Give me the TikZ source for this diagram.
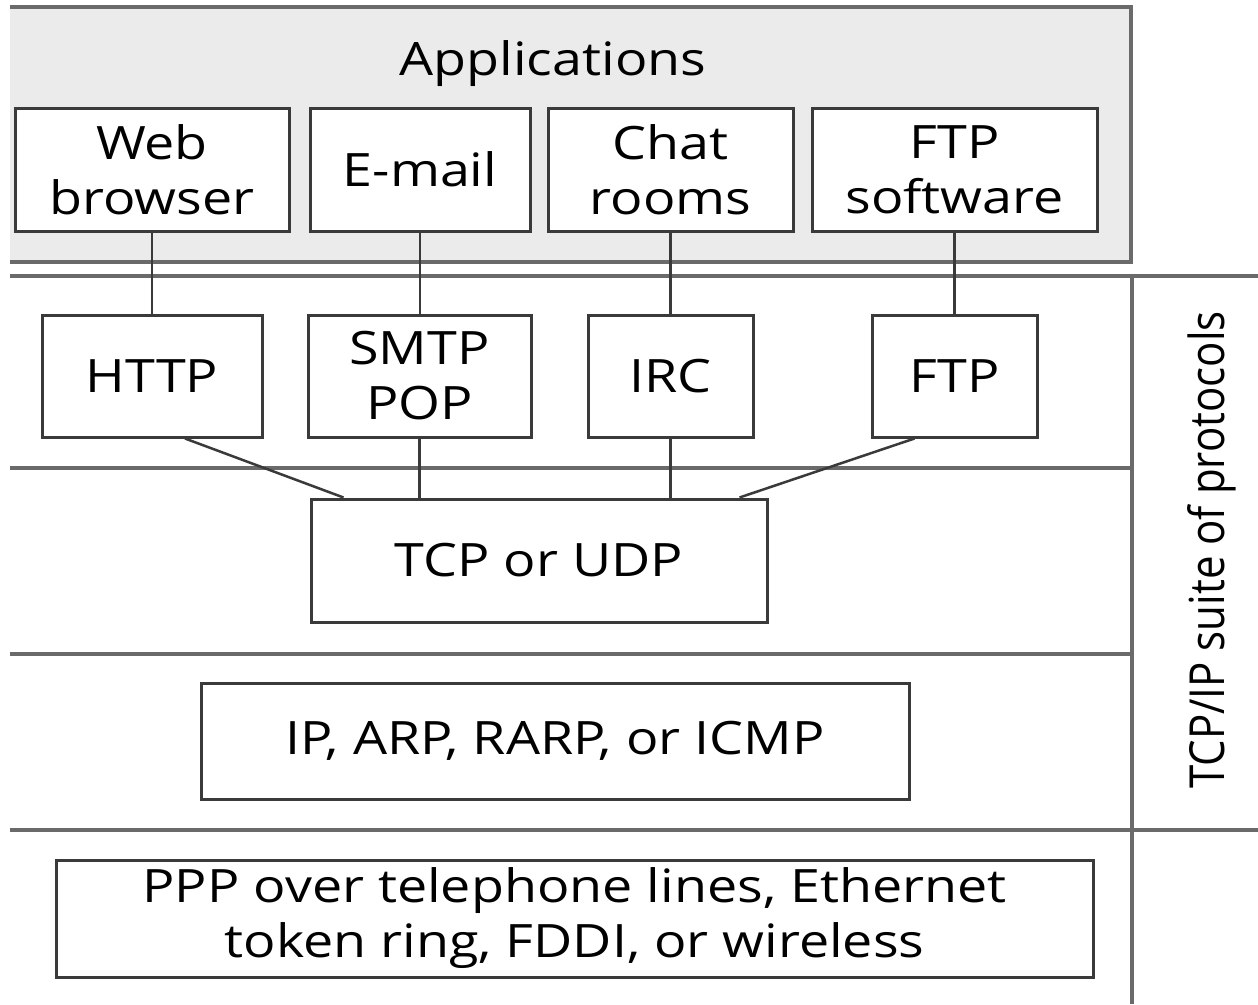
\documentclass[tikz,border=0pt]{standalone}
\usepackage{fontspec}
\setmainfont[FakeStretch=1.17]{Open Sans}
\newfontfamily\rotfont{Open Sans}
\usetikzlibrary{calc}
\definecolor{boxc}{HTML}{3A3A3A}
\definecolor{sepc}{HTML}{6A6A6A}
\definecolor{appc}{HTML}{EBEBEB}
\begin{document}
\begin{tikzpicture}[x=1pt,y=-1pt,
  box/.style={draw=boxc, line width=3pt, fill=white, inner sep=0pt, align=center,
    font=\fontsize{46}{55}\selectfont},
  sepline/.style={draw=sepc, line width=4pt},
  conn/.style={draw=boxc, line width=2.5pt}]
\useasboundingbox (0,0) rectangle (1258,1004);
\fill[white] (0,0) rectangle (1258,1004);
% applications panel
\fill[appc] (10,7) rectangle (1131,262);
\draw[sepline] (10,7) -- (1131,7) -- (1131,262) -- (10,262);
\node[font=\fontsize{46}{55}\selectfont] (apps) at (553,64) {Applications};
% separators
\draw[sepline] (10,276) -- (1258,276);
\draw[sepline] (1132,276) -- (1132,1004);
\draw[sepline] (10,468) -- (1132,468);
\draw[sepline] (10,654) -- (1132,654);
\draw[sepline] (10,830) -- (1258,830);
% application boxes
\node[box, minimum width=274, minimum height=123] (web) at (152,169.5) {Web\\browser};
\node[box, minimum width=220, minimum height=123] (mail) at (420,169.5) {E-mail};
\node[box, minimum width=245, minimum height=123] (chat) at (670.5,169.5) {Chat\\rooms};
\node[box, minimum width=285, minimum height=123] (ftpsw) at (954.5,169.5) {FTP\\software};
% protocol boxes
\node[box, minimum width=220, minimum height=122] (http) at (152,376) {HTTP};
\node[box, minimum width=223, minimum height=122] (smtp) at (419.5,376) {SMTP\\POP};
\node[box, minimum width=165, minimum height=122] (irc) at (670.5,376) {IRC};
\node[box, minimum width=165, minimum height=122] (ftp) at (954.5,376) {FTP};
% transport
\node[box, minimum width=456, minimum height=123] (tcp) at (539,560.5) {TCP or UDP};
% network
\node[box, minimum width=708, minimum height=116] (ip) at (555,741) {IP, ARP, RARP, or ICMP};
% link
\node[box, minimum width=1037, minimum height=117] (ppp) at (574.5,918.5) {PPP over telephone lines, Ethernet\\token ring, FDDI, or wireless};
% connectors
\draw[conn] (web.south) -- (http.north);
\draw[conn] (mail.south) -- (mail.south |- smtp.north);
\draw[conn] (chat.south) -- (irc.north);
\draw[conn] (ftpsw.south) -- (ftp.north);
\draw[conn] ($(http.south)+(33,0)$) -- ($(tcp.north west)+(34,0)$);
\draw[conn] (smtp.south) -- (smtp.south |- tcp.north);
\draw[conn] (irc.south) -- (irc.south |- tcp.north);
\draw[conn] ($(ftp.south)+(-40,0)$) -- ($(tcp.north east)+(-29,0)$);
% side label
\begin{scope}[xscale=1.15]
\node[rotate=90, transform shape, font=\rotfont\fontsize{42}{50}\selectfont] (suite) at (1053.9,550) {TCP/IP suite of protocols};
\end{scope}
\end{tikzpicture}
\end{document}
